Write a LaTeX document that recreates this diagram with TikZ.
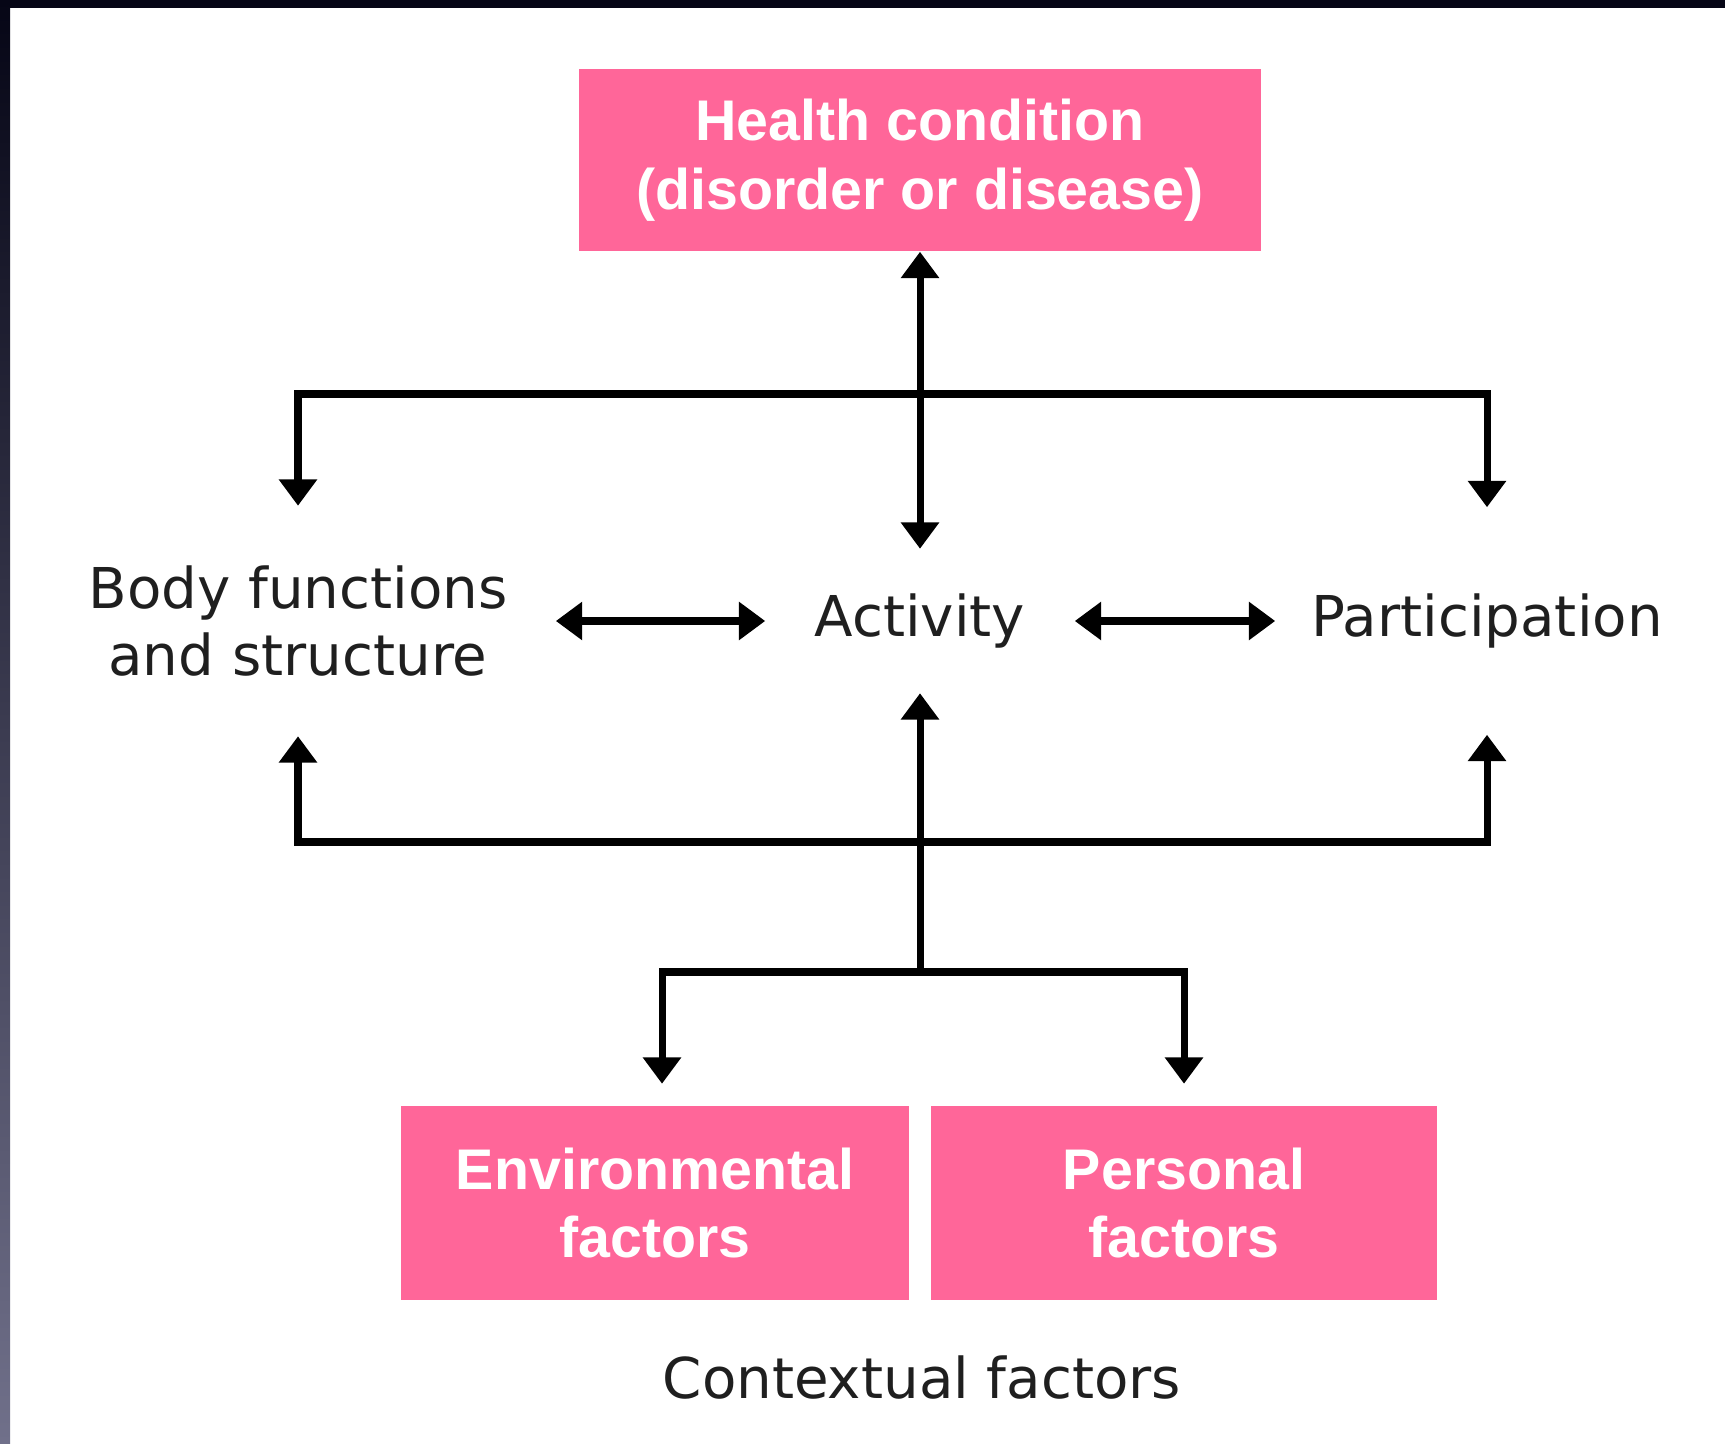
\documentclass[tikz,border=0pt]{standalone}
\usepackage{fontspec}
\setmainfont{DejaVu Sans}
\newfontfamily\boxfont{Liberation Sans}
\usetikzlibrary{arrows.meta}

\definecolor{icfpink}{RGB}{255,102,153}
\definecolor{frametop}{RGB}{6,6,22}
\definecolor{framebot}{RGB}{112,112,138}

\tikzset{
  pinkbox/.style={fill=icfpink, text=white, align=center, inner sep=0pt,
    font=\boxfont\bfseries\fontsize{16.3}{19.6}\selectfont},
  plaintext/.style={text=black!88, align=center, inner sep=0pt,
    font=\fontsize{16}{19}\selectfont},
  bar/.style={line width=2pt},
  link/.style={bar, -{Triangle[width=10.5pt,length=7.5pt]}},
  dlink/.style={bar, {Triangle[width=10.5pt,length=7.5pt]}-{Triangle[width=10.5pt,length=7.5pt]}}
}

\begin{document}
\begin{tikzpicture}[x=0.01cm,y=-0.01cm]
    \useasboundingbox (0,0) rectangle (1725,1443);
    % Frame
    \fill[frametop] (0,0) rectangle (1725,8);
    \shade[top color=frametop,bottom color=framebot] (0,0) rectangle (10,1443);

    % Boxes
    \node[pinkbox, minimum width=6.82cm, minimum height=1.82cm] (health) at (920,160)
        {Health condition\\(disorder or disease)};
    \node[pinkbox, minimum width=5.07cm, minimum height=1.93cm] (env) at (655,1203)
        {Environmental\\factors};
    \node[pinkbox, minimum width=5.06cm, minimum height=1.93cm] (pers) at (1184,1203)
        {Personal\\factors};

    % Components
    \node[plaintext, minimum width=5.14cm, minimum height=2.29cm] (body) at (298,621)
        {Body functions\\and structure};
    \node[plaintext, minimum width=3.08cm, minimum height=1.43cm] (activity) at (920,621)
        {Activity};
    \node[plaintext, minimum width=4.22cm, minimum height=2.26cm] (part) at (1487,621)
        {Participation};
    \node[plaintext] (context) at (922,1378) {Contextual factors};

    % Junctions
    \coordinate (hubtop) at (920,394);
    \coordinate (hubbot) at (920,842);
    \coordinate (fork) at (920,972);

    % Links
    \draw[dlink] (health.south) -- (activity.north);
    \draw[link] (hubtop) -| (body.north);
    \draw[link] (hubtop) -| (part.north);
    \draw[link] (fork) -- (activity.south);
    \draw[link] (hubbot) -| (body.south);
    \draw[link] (hubbot) -| (part.south);
    \draw[link, shorten >=0.22cm] (fork) -| ([xshift=0.07cm]env.north);
    \draw[link, shorten >=0.22cm] (fork) -| (pers.north);
    \draw[dlink] (body.east) -- (activity.west);
    \draw[dlink] (activity.east) -- (part.west);
\end{tikzpicture}
\end{document}
